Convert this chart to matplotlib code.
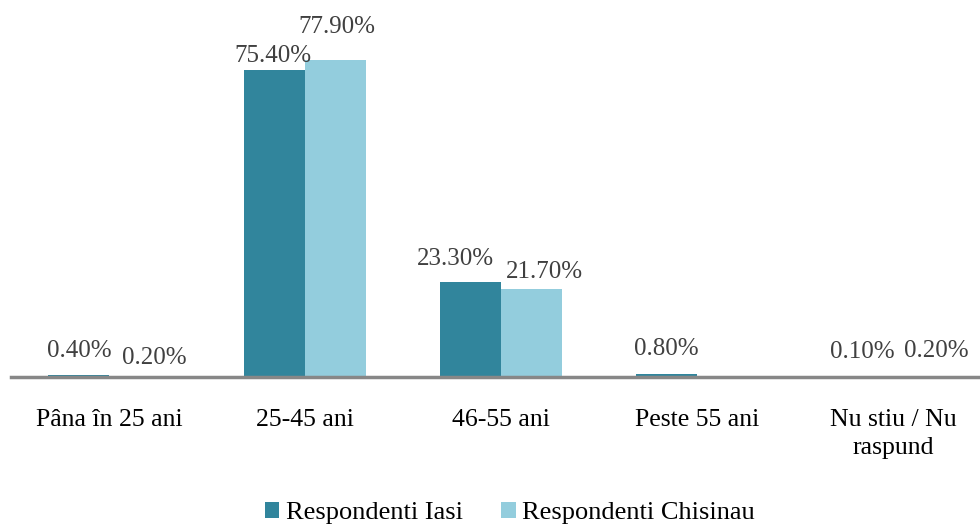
import matplotlib
matplotlib.use("Agg")
import matplotlib.pyplot as plt
import numpy as np

categories = ["Pâna în 25 ani", "25-45 ani", "46-55 ani", "Peste 55 ani", "Nu stiu / Nu\nraspund"]
iasi = [0.4, 75.4, 23.3, 0.8, 0.1]
chisinau = [0.2, 77.9, 21.7, 0.0, 0.2]
iasi_labels = ["0.40%", "75.40%", "23.30%", "0.80%", "0.10%"]
chis_labels = ["0.20%", "77.90%", "21.70%", None, "0.20%"]
series_names = ["Respondenti Iasi", "Respondenti Chisinau"]

# label offsets (pixels) from bar top centre, as placed in the original
iasi_off = [(1, 18), (-2, 8), (-15, 17), (0, 19), (0, 19)]
chis_off = [(15, 12), (1, 27), (13, 11), (0, 0), (13, 19)]

plt.rcParams['font.family'] = ['Liberation Serif', 'DejaVu Serif']

fig = plt.figure(figsize=(9.8, 5.27), dpi=100)
ax = fig.add_axes([11/980, 150/527, 980/980, 366/527])

x = np.arange(len(categories))
w = 0.31
b1 = ax.bar(x - w/2, iasi, w, color="#31859C", label=series_names[0])
b2 = ax.bar(x + w/2, chisinau, w, color="#93CDDD", label=series_names[1])

for rect, v, lab, off in zip(b1, iasi, iasi_labels, iasi_off):
    ax.annotate(lab, (rect.get_x() + rect.get_width()/2, v), xytext=off,
                textcoords="offset pixels", ha="center", va="baseline", fontsize=18, color="#404040")
for rect, v, lab, off in zip(b2, chisinau, chis_labels, chis_off):
    if lab is None:
        continue
    ax.annotate(lab, (rect.get_x() + rect.get_width()/2, v), xytext=off,
                textcoords="offset pixels", ha="center", va="baseline", fontsize=18, color="#404040")

ax.set_xlim(-0.5, 4.5)
ax.set_ylim(0, 90)
ax.set_xticks(x)
ax.set_xticklabels(categories, fontsize=18.5, color="black", linespacing=1.36)
ax.tick_params(axis='x', length=0, pad=23)
ax.set_yticks([])
for s in ["top", "right", "left"]:
    ax.spines[s].set_visible(False)
ax.spines["bottom"].set_color("#878787")
ax.spines["bottom"].set_linewidth(2.5)

ax.legend(loc="lower center", bbox_to_anchor=(499/980, -150/366 - 8/366), ncol=2, frameon=False,
          fontsize=19, handlelength=0.55, handleheight=0.55, handletextpad=0.25, columnspacing=1.45,
          borderaxespad=0)

fig.savefig("out.png", dpi=100)
